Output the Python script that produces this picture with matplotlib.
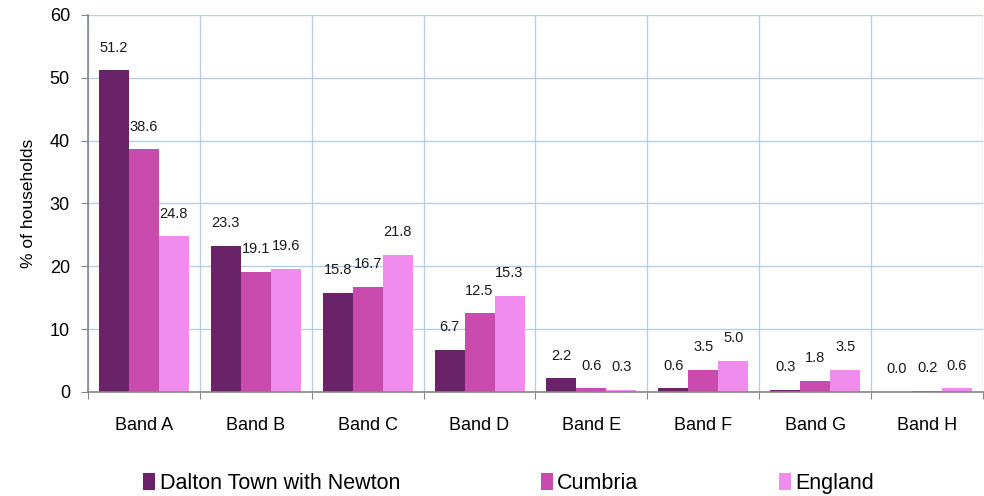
import matplotlib
matplotlib.use("Agg")
from matplotlib import pyplot as plt
from matplotlib.ticker import FixedLocator
import numpy as np

bands = ["Band A", "Band B", "Band C", "Band D", "Band E", "Band F", "Band G", "Band H"]
dalton = [51.2, 23.3, 15.8, 6.7, 2.2, 0.6, 0.3, 0.0]
cumbria = [38.6, 19.1, 16.7, 12.5, 0.6, 3.5, 1.8, 0.2]
england = [24.8, 19.6, 21.8, 15.3, 0.3, 5.0, 3.5, 0.6]

series_names = ["Dalton Town with Newton", "Cumbria", "England"]
colors = ["#6a2368", "#c84bad", "#f08ced"]

plt.rcParams["font.family"] = ["Liberation Sans", "DejaVu Sans"]

fig = plt.figure(figsize=(9.84, 4.96), dpi=100)
ax = fig.add_axes([0.0894, 0.2097, 0.9096, 0.7601])

x = np.arange(len(bands))
width = 0.268
offsets = [-width, 0, width]

for vals, name, col, off in zip([dalton, cumbria, england], series_names, colors, offsets):
    bars = ax.bar(x + off, vals, width, color=col, label=name, zorder=3)
    for b, v in zip(bars, vals):
        ax.text(b.get_x() + b.get_width() / 2, v + 3.6, "%.1f" % v,
                ha="center", va="center", fontsize=10.5, color="#1a1a1a")

ax.set_xlim(-0.5, len(bands) - 0.5)
ax.set_ylim(0, 60)
ax.set_yticks(range(0, 61, 10))

# major ticks at category boundaries, labels at centres
ax.xaxis.set_major_locator(FixedLocator(np.arange(-0.5, len(bands), 1.0)))
ax.xaxis.set_minor_locator(FixedLocator(x))
ax.set_xticklabels([])
ax.set_xticklabels(bands, minor=True)
ax.tick_params(axis="x", which="minor", length=0, pad=18, labelsize=13)
ax.tick_params(axis="x", which="major", length=5, color="#868686")
ax.tick_params(axis="y", length=5, color="#868686", pad=8, labelsize=13)

ax.grid(True, which="major", color="#b9cde5", linewidth=1.0, zorder=0)
for s in ["top", "right"]:
    ax.spines[s].set_visible(False)
for s in ["left", "bottom"]:
    ax.spines[s].set_color("#868686")
    ax.spines[s].set_linewidth(1.2)
    ax.spines[s].set_zorder(4)

ax.set_ylabel("% of households", fontsize=12.5, labelpad=10)

fig.legend(loc="lower left", bbox_to_anchor=(0.126, -0.035), ncol=3, frameon=False,
           fontsize=15.5, handlelength=0.55, handleheight=0.9, handletextpad=0.2,
           columnspacing=6.55)

fig.savefig("out.png", dpi=100)
